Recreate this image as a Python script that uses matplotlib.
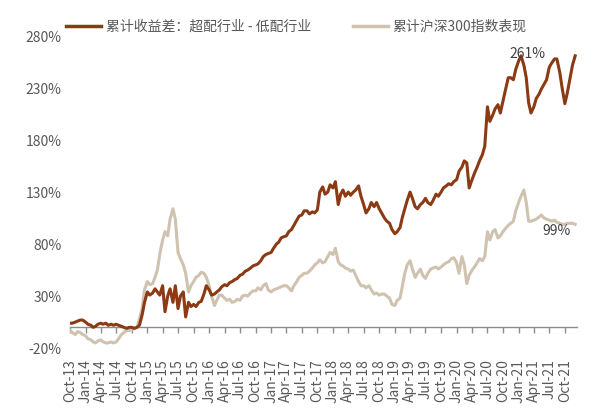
import matplotlib
matplotlib.use("Agg")
import matplotlib.pyplot as plt
import pandas as pd

plt.rcParams['font.family'] = ['Noto Sans CJK SC', 'DejaVu Sans']

# Semi-monthly readings (1st & 15th), Oct-2013 .. Dec-2021, cumulative %
start_date = "2013-10-01"
excess_return = [
    4, 4, 5, 6, 7, 7, 5, 3, 2, 0, 1, 3,
    4, 3, 4, 2, 3, 2, 3, 2, 1, 0, -1, 0,
    0, -1, 0, 2, 12, 24, 34, 31, 33, 37, 34, 31,
    40, 15, 30, 37, 24, 40, 18, 30, 34, 10, 24, 20,
    22, 20, 24, 25, 32, 40, 36, 31, 32, 34, 36, 39,
    41, 40, 43, 44, 46, 47, 50, 51, 54, 55, 57, 59,
    60, 61, 64, 68, 70, 71, 72, 76, 80, 82, 86, 87,
    88, 92, 94, 98, 103, 107, 108, 112, 112, 109, 111, 110,
    113, 130, 135, 128, 130, 137, 134, 140, 118, 128, 132, 126,
    130, 127, 130, 132, 136, 126, 118, 110, 114, 120, 116, 120,
    114, 110, 105, 102, 100, 94, 90, 92, 96, 106, 114, 122,
    130, 124, 116, 114, 118, 120, 124, 120, 118, 122, 128, 126,
    130, 134, 136, 138, 137, 140, 142, 150, 154, 160, 158, 134,
    142, 148, 154, 160, 166, 174, 212, 198, 204, 210, 214, 206,
    218, 228, 240, 240, 238, 248, 256, 261, 252, 240, 216, 206,
    212, 220, 224, 229, 234, 238, 250, 254, 258, 258, 245, 230,
    215, 225, 240, 252, 261]
csi300 = [
    -3, -5, -7, -4, -5, -7, -8, -11, -12, -14, -15, -13,
    -12, -14, -15, -15, -14, -15, -14, -11, -7, -5, -3, -3,
    -2, -1, 0, 8, 18, 36, 44, 41, 42, 48, 55, 70,
    84, 92, 88, 104, 114, 104, 72, 66, 60, 52, 34, 40,
    44, 48, 50, 53, 52, 48, 40, 30, 21, 26, 31, 31,
    28, 26, 27, 24, 25, 27, 26, 30, 31, 30, 33, 35,
    35, 38, 36, 40, 42, 36, 34, 36, 37, 38, 39, 40,
    40, 38, 35, 40, 44, 48, 50, 52, 52, 54, 57, 60,
    62, 65, 62, 63, 68, 72, 70, 76, 63, 60, 59, 57,
    56, 54, 55, 50, 44, 40, 40, 38, 40, 36, 32, 33,
    31, 32, 32, 30, 28, 22, 21, 26, 28, 40, 52, 60,
    64, 56, 48, 52, 56, 50, 47, 52, 56, 57, 58, 56,
    58, 60, 62, 63, 66, 67, 62, 52, 68, 60, 42, 50,
    55, 58, 62, 66, 64, 68, 92, 84, 92, 94, 86, 88,
    92, 95, 98, 100, 102, 112, 120, 126, 132, 120, 102, 102,
    103, 104, 106, 108, 105, 104, 103, 102, 103, 101, 100, 99,
    99, 100, 100, 100, 99]
series_labels = ["累计收益差：超配行业 - 低配行业", "累计沪深300指数表现"]
y_ticks = [-20, 30, 80, 130, 180, 230, 280]

dates = pd.date_range(start_date, periods=len(excess_return), freq="SMS")

BROWN = "#8B3A14"
BEIGE = "#CFC3B0"
GRAY = "#595959"

fig = plt.figure(figsize=(5.91, 4.12), dpi=100)
ax = fig.add_axes([0.1184, 0.155, 0.858, 0.7575])

ax.plot(dates, csi300, color=BEIGE, lw=2.2, label=series_labels[1], zorder=2)
ax.plot(dates, excess_return, color=BROWN, lw=2.2, label=series_labels[0], zorder=3)

ax.set_ylim(-20, 280)
ax.set_xlim(pd.Timestamp("2013-10-01"), pd.Timestamp("2021-12-12"))
ax.set_yticks(y_ticks)
ax.set_yticklabels([f"{v}%" for v in y_ticks])

for s in ax.spines.values():
    s.set_visible(False)
ax.tick_params(axis='y', length=0, labelsize=10, colors=GRAY, pad=6)

qticks = pd.date_range("2013-10-01", "2021-10-01", freq="QS-OCT")
ax.set_xticks(qticks)
ax.set_xticklabels([d.strftime("%b-%y") for d in qticks], rotation=90)
ax.tick_params(axis='x', length=0, labelsize=10, colors=GRAY, pad=8)

# zero axis line with tick marks
sec = ax.secondary_xaxis(0, transform=ax.transData)
sec.set_xticks(qticks)
sec.set_xticklabels([])
sec.tick_params(axis='x', length=4, width=1, color="#8C8C8C", direction='out')
sec.spines['bottom'].set_color("#8C8C8C")
sec.spines['bottom'].set_linewidth(1)

ax.text(pd.Timestamp("2021-02-20"), 263, f"{excess_return[-1]:.0f}%",
        ha='center', va='center', fontsize=10, color="#404040", zorder=5)
ax.text(pd.Timestamp("2021-08-10"), 93, f"{csi300[-1]:.0f}%",
        ha='center', va='center', fontsize=10, color="#404040", zorder=5)

handles, labels = ax.get_legend_handles_labels()
order = [1, 0]
leg = fig.legend([handles[i] for i in order], [labels[i] for i in order],
                 loc='center left', bbox_to_anchor=(0.103, 0.935), ncol=2,
                 frameon=False, fontsize=10, handlelength=2.5,
                 handletextpad=0.35, columnspacing=3.0, borderaxespad=0)
for t in leg.get_texts():
    t.set_color(GRAY)
for l in leg.get_lines():
    l.set_linewidth(2.5)

fig.savefig("out.png", dpi=100)
